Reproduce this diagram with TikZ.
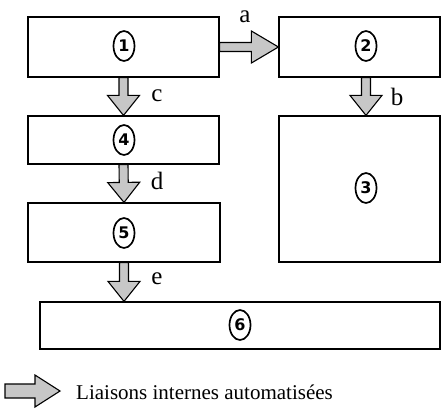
\documentclass[tikz,border=0pt]{standalone}
\usepackage{fontspec}
\setmainfont{Liberation Serif}
\newfontfamily\digitfont{DejaVu Sans}
\usetikzlibrary{calc,shapes.geometric}

\tikzset{
  ba shaft/.store in=\bashaft, ba shaft=4.5pt,
  ba head/.store in=\bahead, ba head=16pt,
  ba len/.store in=\balen, ba len=20pt,
  % wide hollow arrow drawn as one closed outline between two points
  blockarrow/.style={draw=black, line width=1.1pt, fill=black!22, line join=miter,
    to path={let \p1=(\tikztostart), \p2=(\tikztotarget),
      \p3=($(\p2)!\balen!(\p1)$) in
      ($(\p1)!\bashaft!90:(\p2)$) -- ($(\p3)!\bashaft!90:(\p2)$)
      -- ($(\p3)!\bahead!90:(\p2)$) -- (\p2)
      -- ($(\p3)!\bahead!-90:(\p2)$) -- ($(\p3)!\bashaft!-90:(\p2)$)
      -- ($(\p1)!\bashaft!-90:(\p2)$) -- cycle}},
  box/.style={draw=black, line width=1.2pt, inner sep=0pt},
  numtag/.style={draw=black, ellipse, line width=1.7pt, inner sep=0pt,
    minimum width=21pt, minimum height=30pt,
    font=\digitfont\bfseries\fontsize{16}{16}\selectfont},
  lbl/.style={font=\fontsize{25}{25}\selectfont, inner sep=0pt}
}

\begin{document}
\begin{tikzpicture}[x=1pt,y=-1pt]
\useasboundingbox (0,0) rectangle (441,418);

% blocks
\node[box, minimum width=191pt, minimum height=60pt] (b1) at (123.5,47) {};
\node[box, minimum width=161pt, minimum height=60pt] (b2) at (359.5,47) {};
\node[box, minimum width=191pt, minimum height=48pt] (b4) at (123.5,140) {};
\node[box, minimum width=161pt, minimum height=146pt] (b3) at (359.5,189) {};
\node[box, minimum width=192pt, minimum height=59pt] (b5) at (124,232.5) {};
\node[box, minimum width=400pt, minimum height=47pt] (b6) at (240,325.5) {};

% circled numbers
\node[numtag] (n1) at (124,46) {1};
\node[numtag] (n2) at (366,46) {2};
\node[numtag] (n4) at (124,140) {4};
\node[numtag] (n3) at (366,188) {3};
\node[numtag] (n5) at (124,233) {5};
\node[numtag] (n6) at (240,325) {6};

% links between blocks
\draw[blockarrow, ba len=27pt] (b1.east) to (b2.west);
\draw[blockarrow] (n2 |- b2.south) to (n2 |- b3.north);
\draw[blockarrow] (b1.south) to (b4.north);
\draw[blockarrow] (b4.south) to (b5.north);
\draw[blockarrow] (b5.south) to (b6.north -| b5.south);

% link letters
\node[lbl] (la) at (245,17) {a};
\node[lbl] (lb) at (397,97) {b};
\node[lbl] (lc) at (157,96) {c};
\node[lbl] (ld) at (157,181) {d};
\node[lbl] (le) at (157,279) {e};

% legend
\coordinate (lgS) at (5,391);
\coordinate (lgT) at (60,391);
\draw[blockarrow, ba shaft=7pt, ba head=16pt, ba len=25pt] (lgS) to (lgT);
\node[font=\fontsize{21}{21}\selectfont, inner sep=0pt, anchor=west] (lgtext) at (76,392) {Liaisons internes automatisées};
\end{tikzpicture}
\end{document}
